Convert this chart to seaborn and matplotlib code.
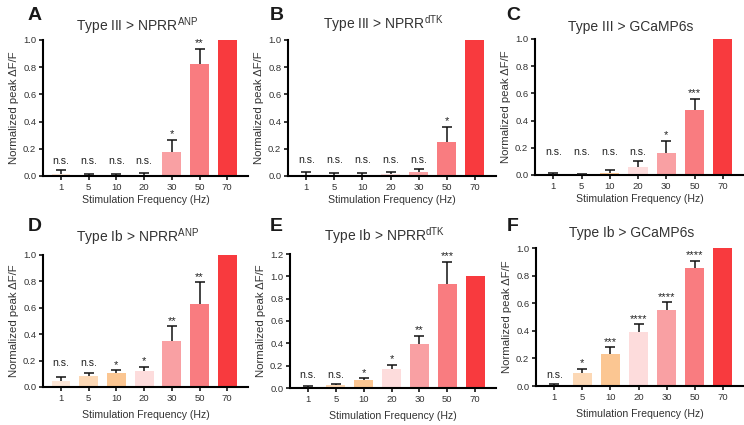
import numpy as np
import pandas as pd
import matplotlib
matplotlib.use("Agg")
import matplotlib.pyplot as plt
import seaborn as sns

sns.set_style("ticks")
plt.rcParams['font.family'] = ['Liberation Sans', 'DejaVu Sans']
plt.rcParams['mathtext.default'] = 'regular'

# ---- data ----
freqs = ["1", "5", "10", "20", "30", "50", "70"]
bar_colors = ["#fde6d6", "#fcd8b5", "#fbc692", "#fddcdc", "#f9a0a3", "#f97c80", "#f83a3e"]

# A: Type III > NPRR-ANP
a_mean = [0.012, 0.004, 0.004, 0.008, 0.180, 0.824, 1.0]
a_err = [0.032, 0.011, 0.011, 0.014, 0.085, 0.112, 0.0]
a_sig = ["n.s.", "n.s.", "n.s.", "n.s.", "*", "**", ""]

# B: Type III > NPRR-dTK
b_mean = [0.005, 0.005, 0.010, 0.015, 0.030, 0.252, 1.0]
b_err = [0.022, 0.015, 0.012, 0.012, 0.020, 0.111, 0.0]
b_sig = ["n.s.", "n.s.", "n.s.", "n.s.", "n.s.", "*", ""]

# C: Type III > GCaMP6s
c_mean = [0.003, 0.002, 0.017, 0.056, 0.164, 0.478, 1.0]
c_err = [0.009, 0.008, 0.018, 0.044, 0.088, 0.083, 0.0]
c_sig = ["n.s.", "n.s.", "n.s.", "n.s.", "*", "***", ""]

# D: Type Ib > NPRR-ANP
d_mean = [0.048, 0.084, 0.109, 0.122, 0.347, 0.628, 1.0]
d_err = [0.028, 0.025, 0.018, 0.030, 0.114, 0.164, 0.0]
d_sig = ["n.s.", "n.s.", "*", "*", "**", "**", ""]

# E: Type Ib > NPRR-dTK
e_mean = [0.003, 0.024, 0.069, 0.174, 0.393, 0.934, 1.0]
e_err = [0.018, 0.012, 0.018, 0.036, 0.075, 0.198, 0.0]
e_sig = ["n.s.", "n.s.", "*", "*", "**", "***", ""]

# F: Type Ib > GCaMP6s
f_mean = [0.003, 0.095, 0.235, 0.393, 0.550, 0.858, 1.0]
f_err = [0.012, 0.031, 0.044, 0.053, 0.058, 0.049, 0.0]
f_sig = ["n.s.", "*", "***", "****", "****", "****", ""]

titles = [r"Type III > NPRR$^{ANP}$", r"Type III > NPRR$^{dTK}$", "Type III > GCaMP6s",
          r"Type Ib > NPRR$^{ANP}$", r"Type Ib > NPRR$^{dTK}$", "Type Ib > GCaMP6s"]
letters = ["A", "B", "C", "D", "E", "F"]
ymax = [1.0, 1.0, 1.0, 1.0, 1.2, 1.0]

panels = [(a_mean, a_err, a_sig), (b_mean, b_err, b_sig), (c_mean, c_err, c_sig),
          (d_mean, d_err, d_sig), (e_mean, e_err, e_sig), (f_mean, f_err, f_sig)]

# ---- layout (pixels: left, right, top, bottom) ----
W, H = 744, 425
boxes = [(43, 248, 40, 176), (288, 496, 40, 176), (535, 744, 39, 175),
         (43, 248, 255, 387), (290, 496, 254, 388), (536, 744, 248, 386)]
title_pads = [6.8, 8.3, 6.1, 9.7, 9.7, 7.9]
letter_xy = [(28, 16), (270, 15), (506, 16), (28, 227), (270, 227), (507, 227)]

fig = plt.figure(figsize=(W / 100, H / 100), dpi=100)

for k, (mean, err, sig) in enumerate(panels):
    l, r, t, b = boxes[k]
    ax = fig.add_axes([l / W, 1 - b / H, (r - l) / W, (b - t) / H])

    df = pd.DataFrame({"freq": freqs, "val": mean})
    sns.barplot(data=df, x="freq", y="val", hue="freq", order=freqs, hue_order=freqs,
                palette=bar_colors, saturation=1, width=0.68, legend=False,
                linewidth=0, ax=ax)

    # upper-only error bars (SEM)
    x = np.arange(len(freqs))
    m = np.array(mean)
    e = np.array(err)
    has = e > 0
    _, caps, _ = ax.errorbar(x[has], m[has], yerr=[np.zeros(has.sum()), e[has]], fmt="none",
                             ecolor="#111111", elinewidth=1.1, capsize=3.4, capthick=1.1,
                             zorder=5)
    caps[0].set_visible(False)

    # significance labels
    tops = m + e
    ns_idx = [i for i, s in enumerate(sig) if s == "n.s."]
    ns_y = tops[ns_idx].max() if ns_idx else 0
    for i, s in enumerate(sig):
        if not s:
            continue
        if s == "n.s.":
            ax.annotate(s, xy=(i, ns_y), xytext=(0, 3), textcoords="offset points",
                        ha="center", va="bottom", fontsize=7.6, color="#222222")
        else:
            ax.annotate(s, xy=(i, tops[i]), xytext=(0, 0.3), textcoords="offset points",
                        ha="center", va="bottom", fontsize=8, color="#222222")

    ax.set_xlim(-0.65, 6.75)
    ax.set_ylim(0, ymax[k])
    ticks = np.arange(0, ymax[k] + 0.01, 0.2)
    ax.set_yticks(ticks)
    ax.set_yticklabels([f"{v:.1f}" for v in ticks])
    sns.despine(ax=ax)
    for sp in ["left", "bottom"]:
        ax.spines[sp].set_linewidth(1.5)
        ax.spines[sp].set_color("black")
    ax.tick_params(axis="both", direction="out", length=3, width=1.1, labelsize=6.8,
                   pad=1.8, colors="black", labelcolor="#333333")

    ax.set_xlabel("Stimulation Frequency (Hz)", fontsize=7.6, color="#333333",
                  labelpad=2.5 if k < 3 else 5)
    ax.set_ylabel("Normalized peak ΔF/F", fontsize=8.2, color="#333333", labelpad=3)
    ax.set_title(titles[k], fontsize=10, color="#333333", pad=title_pads[k], x=0.46)

    lx, ly = letter_xy[k]
    fig.text(lx / W, 1 - ly / H, letters[k], fontsize=14, fontweight="bold",
             ha="left", va="center", color="#1a1a1a")

fig.savefig("out.png", dpi=100)
